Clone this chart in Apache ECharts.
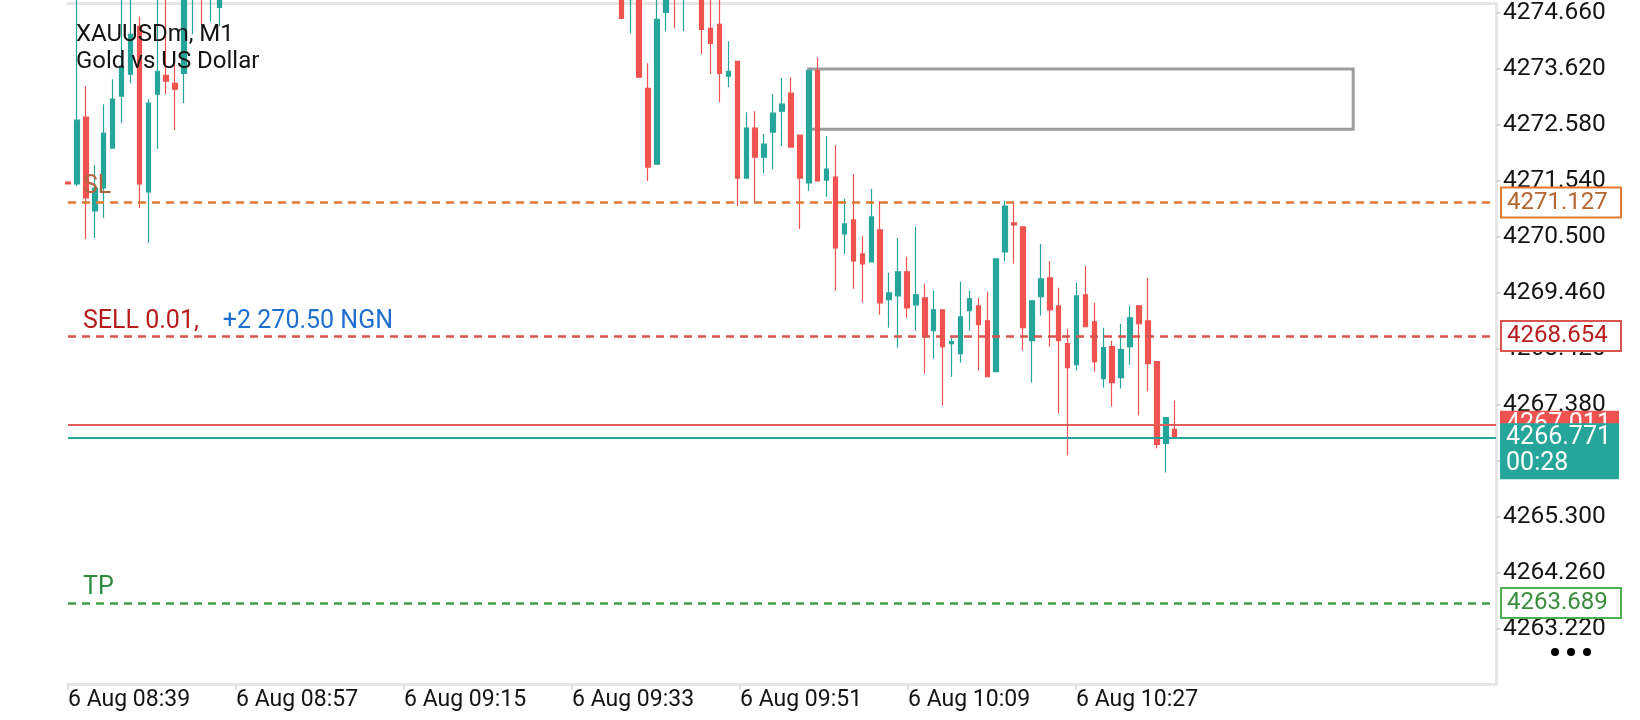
<!DOCTYPE html>
<html>
<head>
<meta charset="utf-8">
<script src="https://cdn.jsdelivr.net/npm/echarts@6/dist/echarts.min.js"></script>
<style>
html,body{margin:0;padding:0;background:#ffffff;}
#chart{width:1640px;height:720px;}
</style>
</head>
<body>
<div id="chart"></div>
<script>
// ---------- DATA ----------
const symbolName = 'XAUUSDm, M1';
const symbolDesc = 'Gold vs US Dollar';

// bar slots on the time axis (1-minute bars), incl. empty future slots to the right edge
const slotCount = 161;
const firstBarMinute = 8 * 60 + 39;

// OHLC as [open, close, low, high]; null = bar not visible (outside the price range)
const block1Start = 0;
const block1 = [
  [4271.511, 4271.474, 4271.474, 4271.511],
  [4271.474, 4272.660, 4271.437, 4275.200],
  [4272.716, 4271.214, 4270.454, 4273.290],
  [4270.973, 4271.400, 4270.473, 4271.826],
  [4271.400, 4272.419, 4270.844, 4272.957],
  [4272.141, 4273.050, 4272.141, 4273.420],
  [4273.105, 4273.661, 4272.605, 4275.100],
  [4273.513, 4274.254, 4273.346, 4275.200],
  [4274.403, 4271.474, 4271.029, 4274.588],
  [4271.326, 4272.975, 4270.380, 4273.050],
  [4273.142, 4273.569, 4272.123, 4275.100],
  [4273.494, 4273.383, 4273.142, 4275.000],
  [4273.346, 4273.235, 4272.475, 4273.717],
  [4273.531, 4275.000, 4272.975, 4275.300],
  [4274.950, 4275.300, 4274.254, 4275.500],
  [4275.400, 4274.950, 4274.440, 4275.600],
  [4274.950, 4275.500, 4274.495, 4275.700],
  [4274.755, 4274.950, 4274.403, 4275.100]
];

const block2Start = 62;
const block2 = [
  [4275.000, 4274.551, 4274.551, 4275.200],
  [4274.900, 4275.300, 4274.273, 4275.400],
  [4275.000, 4273.457, 4273.457, 4275.200],
  [4273.253, 4271.789, 4271.530, 4273.717],
  [4271.845, 4274.532, 4271.845, 4274.900],
  [4274.662, 4274.900, 4274.310, 4275.000],
  [4275.300, 4275.000, 4274.366, 4275.500],
  [4274.950, 4275.200, 4274.310, 4275.400],
  null,
  [4275.000, 4274.347, 4273.884, 4275.200],
  [4274.366, 4274.088, 4273.513, 4274.900],
  [4274.440, 4273.531, 4272.994, 4274.900],
  [4273.476, 4273.569, 4273.272, 4274.125],
  [4273.754, 4271.585, 4271.066, 4273.754],
  [4271.585, 4272.512, 4271.585, 4272.808],
  [4272.512, 4271.974, 4271.159, 4272.827],
  [4271.974, 4272.215, 4271.678, 4272.401],
  [4272.438, 4272.790, 4271.752, 4273.142],
  [4272.827, 4272.957, 4272.178, 4273.439],
  [4273.161, 4272.160, 4272.160, 4273.457],
  [4272.382, 4271.585, 4270.640, 4272.382],
  [4271.493, 4273.587, 4271.344, 4273.587],
  [4273.587, 4271.530, 4271.530, 4273.828],
  [4271.548, 4271.752, 4271.233, 4272.364],
  [4271.604, 4270.288, 4269.491, 4272.197],
  [4270.547, 4270.733, 4270.176, 4271.196],
  [4270.807, 4270.046, 4269.528, 4271.659],
  [4270.176, 4269.991, 4269.268, 4270.510],
  [4270.027, 4270.862, 4270.027, 4271.381],
  [4270.621, 4269.268, 4269.046, 4271.159],
  [4269.324, 4269.454, 4268.805, 4269.824],
  [4269.398, 4269.843, 4268.434, 4270.473],
  [4269.843, 4269.175, 4268.990, 4270.121],
  [4269.231, 4269.417, 4268.749, 4270.677],
  [4269.361, 4268.638, 4267.952, 4269.620],
  [4268.749, 4269.138, 4268.230, 4269.491],
  [4269.138, 4268.453, 4267.359, 4269.138],
  [4268.508, 4268.545, 4267.896, 4268.619],
  [4268.323, 4269.009, 4268.156, 4269.657],
  [4269.120, 4269.342, 4268.749, 4269.491],
  [4269.212, 4268.860, 4268.008, 4269.361],
  [4268.934, 4267.896, 4267.896, 4269.472],
  [4267.989, 4270.083, 4267.989, 4270.083],
  [4270.213, 4271.066, 4270.046, 4271.159],
  [4270.751, 4270.714, 4269.991, 4271.140],
  [4270.677, 4268.805, 4268.379, 4270.677],
  [4268.564, 4269.305, 4267.785, 4269.305],
  [4269.380, 4269.713, 4269.027, 4270.362],
  [4269.731, 4269.138, 4268.453, 4270.046],
  [4269.212, 4268.564, 4267.211, 4269.546],
  [4268.508, 4268.063, 4266.432, 4268.786],
  [4268.119, 4269.398, 4268.008, 4269.639],
  [4269.417, 4268.823, 4268.823, 4269.953],
  [4268.916, 4268.174, 4267.989, 4269.268],
  [4267.859, 4268.434, 4267.692, 4268.805],
  [4268.453, 4267.785, 4267.340, 4268.564],
  [4267.878, 4268.397, 4267.674, 4268.879],
  [4268.453, 4268.990, 4268.119, 4269.212],
  [4269.212, 4268.879, 4267.174, 4269.212],
  [4268.934, 4268.137, 4267.619, 4269.731],
  [4268.174, 4266.636, 4266.562, 4268.174],
  [4266.655, 4267.137, 4266.117, 4267.137],
  [4266.915, 4266.766, 4266.766, 4267.452]
];

// price axis
const priceMin = 4262.187;
const priceMax = 4274.829;
const priceTicks = [4263.22, 4264.26, 4265.30, 4266.34, 4267.38, 4268.42, 4269.46, 4270.50, 4271.54, 4272.58, 4273.62, 4274.66];

// time labels (label scale in minutes from the first label)
const timeTickMinutes = [0, 18, 36, 54, 72, 90, 108];
const timeTickLabels = ['6 Aug 08:39', '6 Aug 08:57', '6 Aug 09:15', '6 Aug 09:33', '6 Aug 09:51', '6 Aug 10:09', '6 Aug 10:27'];
const timeAxisSpan = 153;

// trade levels
const slPrice = 4271.127;
const sellPrice = 4268.654;
const tpPrice = 4263.689;
const askPrice = 4267.011;
const bidPrice = 4266.771;
const countdown = '00:28';
const orderText = 'SELL 0.01,';
const profitText = '+2 270.50 NGN';

// drawn rectangle (bar index range, price range)
const zoneStartBar = 83;
const zoneEndBar = 144;
const zoneTop = 4273.611;
const zoneBottom = 4272.493;

// ---------- BUILD ----------
const categories = [];
for (let i = 0; i < slotCount; i++) {
  const m = firstBarMinute + i;
  const hh = String(Math.floor(m / 60) % 24).padStart(2, '0');
  const mm = String(m % 60).padStart(2, '0');
  categories.push('6 Aug ' + hh + ':' + mm);
}
const EMPTY = ['-', '-', '-', '-'];
const candleData = categories.map(() => EMPTY);
block1.forEach((b, i) => { candleData[block1Start + i] = b ? b : EMPTY; });
block2.forEach((b, i) => { candleData[block2Start + i] = b ? b : EMPTY; });

const FONT = 'Roboto';
const UP = '#26a69a';
const DOWN = '#ef5350';
const frameColor = '#e6e6e6';
const HIDDEN_LINE = { color: 'rgba(255,255,255,0)', width: 0.01, type: 'solid' };

function priceBox(value, textColor, borderColor) {
  return {
    show: true,
    position: 'end',
    distance: 6,
    formatter: value.toFixed(3),
    fontFamily: FONT,
    fontSize: 24,
    lineHeight: 24,
    color: textColor,
    backgroundColor: '#ffffff',
    borderColor: borderColor,
    borderWidth: 2,
    padding: [2, 5, 2, 5],
    width: 108,
    align: 'left'
  };
}
function startText(text, color) {
  return {
    show: true,
    position: 'insideStartTop',
    distance: [15, 3],
    formatter: text,
    fontFamily: FONT,
    fontSize: 25,
    color: color
  };
}

const chart = echarts.init(document.getElementById('chart'), null, { renderer: 'canvas' });

const option = {
  animation: false,
  backgroundColor: '#ffffff',
  textStyle: { fontFamily: FONT },
  title: {
    text: symbolName + '\n' + symbolDesc,
    left: 76,
    top: 21,
    padding: 0,
    textStyle: { fontFamily: FONT, fontSize: 24, lineHeight: 27, fontWeight: 'normal', color: '#141414' }
  },
  grid: { left: 68, right: 144, top: 2, bottom: 36, show: false },
  xAxis: [
    {
      type: 'category',
      data: categories,
      boundaryGap: false,
      position: 'top',
      axisLine: { show: true, onZero: false, lineStyle: { color: frameColor, width: 3 } },
      axisTick: { show: false },
      axisLabel: { show: false },
      splitLine: { show: false }
    },
    {
      type: 'value',
      min: 0,
      max: timeAxisSpan,
      position: 'bottom',
      axisLine: { show: true, onZero: false, lineStyle: { color: frameColor, width: 3 } },
      axisTick: { show: true, customValues: timeTickMinutes, length: 6, lineStyle: { color: '#d8d8d8', width: 1.5 } },
      axisLabel: {
        show: true,
        customValues: timeTickMinutes,
        formatter: function (v) { const k = timeTickMinutes.indexOf(Math.round(v)); return k >= 0 ? timeTickLabels[k] : ''; },
        align: 'left',
        margin: 5,
        fontFamily: FONT,
        fontSize: 23,
        color: '#141414'
      },
      splitLine: { show: false }
    }
  ],
  yAxis: {
    type: 'value',
    position: 'right',
    min: priceMin,
    max: priceMax,
    scale: true,
    axisLine: { show: true, onZero: false, lineStyle: { color: frameColor, width: 3 } },
    axisTick: { show: true, customValues: priceTicks, length: 4, lineStyle: { color: '#cfcfcf', width: 1.5 } },
    axisLabel: {
      show: true,
      customValues: priceTicks,
      formatter: function (v) { return Number(v).toFixed(3); },
      margin: 7,
      fontFamily: FONT,
      fontSize: 24.5,
      color: '#141414'
    },
    splitLine: { show: false }
  },
  series: [
    {
      type: 'candlestick',
      name: 'XAUUSDm',
      xAxisIndex: 0,
      yAxisIndex: 0,
      data: candleData,
      barWidth: 5,
      clip: true,
      z: 2,
      itemStyle: { color: UP, color0: DOWN, borderColor: UP, borderColor0: DOWN, borderWidth: 1.2 },
      markArea: {
        silent: true,
        itemStyle: { color: 'rgba(0,0,0,0)', borderColor: '#9e9e9e', borderWidth: 3 },
        data: [[
          { xAxis: categories[zoneStartBar], yAxis: zoneTop },
          { xAxis: categories[zoneEndBar], yAxis: zoneBottom }
        ]]
      }
    },
    {
      type: 'line',
      name: 'levels',
      xAxisIndex: 0,
      yAxisIndex: 0,
      data: [],
      clip: false,
      z: 4,
      markLine: {
        silent: true,
        symbol: ['none', 'none'],
        data: [
          { yAxis: askPrice, lineStyle: { color: '#e35d5b', width: 1.8, type: 'solid' },
            label: { show: true, position: 'end', distance: 4, formatter: askPrice.toFixed(3), fontFamily: FONT, fontSize: 25, lineHeight: 22,
                     color: '#ffffff', backgroundColor: DOWN, padding: [3, 6, 2, 6], width: 107, align: 'left' } },
          { yAxis: bidPrice, lineStyle: { color: UP, width: 2, type: 'solid' }, label: { show: false } },
          { yAxis: slPrice, lineStyle: { color: '#e07a30', width: 2.5, type: [8, 6] }, label: priceBox(slPrice, '#b5652f', '#e07a30') },
          { yAxis: slPrice, lineStyle: HIDDEN_LINE, label: startText('SL', '#b4643c') },
          { yAxis: sellPrice, lineStyle: { color: '#d9534f', width: 2.5, type: [8, 6] }, label: priceBox(sellPrice, '#b71c1c', '#d9534f') },
          { yAxis: sellPrice, lineStyle: HIDDEN_LINE,
            label: {
              show: true, position: 'insideStartTop', distance: [15, 2],
              formatter: '{a|' + orderText + '}{b|' + profitText + '}',
              rich: {
                a: { fontFamily: FONT, fontSize: 25, color: '#b71c1c' },
                b: { fontFamily: FONT, fontSize: 25, color: '#1e6fd0', padding: [0, 0, 0, 24] }
              }
            } },
          { yAxis: tpPrice, lineStyle: { color: '#43a047', width: 2.5, type: [8, 6] }, label: priceBox(tpPrice, '#388e3c', '#4caf50') },
          { yAxis: tpPrice, lineStyle: HIDDEN_LINE, label: startText('TP', '#2e8b3e') }
        ]
      }
    },
    {
      type: 'line',
      name: 'bid',
      xAxisIndex: 0,
      yAxisIndex: 0,
      data: [],
      clip: false,
      z: 6,
      markPoint: {
        silent: true,
        symbol: 'rect',
        symbolSize: [0.1, 0.1],
        itemStyle: { color: 'rgba(0,0,0,0)' },
        data: [{
          coord: [categories[slotCount - 1], bidPrice],
          label: {
            show: true,
            position: 'right',
            distance: 4,
            offset: [0, 14],
            formatter: bidPrice.toFixed(3) + '\n' + countdown,
            fontFamily: FONT,
            fontSize: 25,
            lineHeight: 26,
            color: '#ffffff',
            backgroundColor: UP,
            padding: [3, 6, 1, 6],
            width: 107,
            align: 'left'
          }
        }]
      }
    }
  ],
  graphic: [
    { type: 'circle', left: 1551, top: 648, shape: { r: 4 }, style: { fill: '#000' }, z: 10 },
    { type: 'circle', left: 1567, top: 648, shape: { r: 4 }, style: { fill: '#000' }, z: 10 },
    { type: 'circle', left: 1583, top: 648, shape: { r: 4 }, style: { fill: '#000' }, z: 10 }
  ]
};

chart.setOption(option);
</script>
</body>
</html>
